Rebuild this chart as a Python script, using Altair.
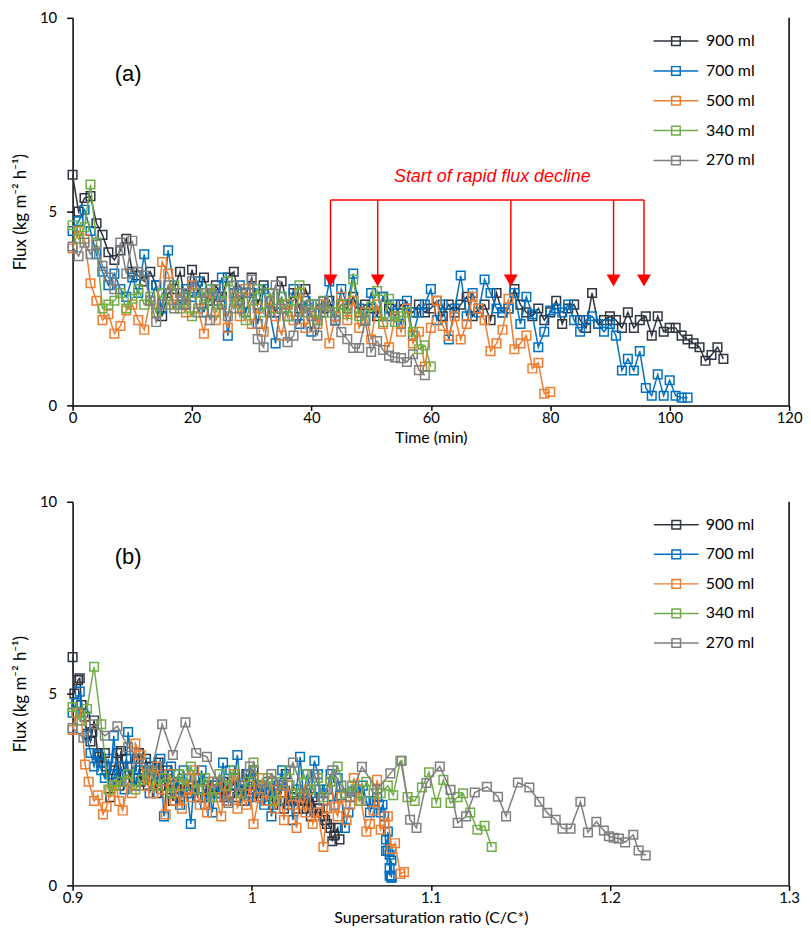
import altair as alt
import pandas as pd

series = ["900 ml", "700 ml", "500 ml", "340 ml", "270 ml"]
colors = ["#2E3440", "#0070C0", "#ED7D31", "#70AD47", "#7F7F7F"]

x_ticks_top = [0, 20, 40, 60, 80, 100, 120]
x_ticks_bottom = [0.9, 1.0, 1.1, 1.2, 1.3]
y_ticks = [0, 5, 10]

# flux (kg m-2 h-1), one reading per minute
flux_900 = [5.95, 5.0, 5.35, 5.4, 4.7, 4.4, 3.95, 3.75, 4.0, 4.3,
            3.45, 3.35, 3.2, 3.45, 3.1, 2.3, 2.9, 3.0, 3.45, 2.6,
            3.5, 2.9, 3.3, 2.7, 3.1, 2.8, 3.3, 3.45, 2.7, 2.9,
            3.3, 2.6, 3.1, 2.9, 2.4, 3.2, 2.6, 2.9, 2.5, 3.0,
            2.6, 2.2, 2.5, 2.7, 2.3, 2.6, 2.5, 2.8, 2.4, 2.6,
            2.5, 2.3, 2.8, 2.5, 2.3, 2.6, 2.5, 2.4, 2.6, 2.4,
            2.5, 2.7, 2.3, 2.6, 2.4, 2.6, 2.8, 2.3, 2.5, 2.6,
            2.2, 2.9, 2.4, 2.5, 3.0, 2.6, 2.4, 2.3, 2.5, 2.2,
            2.4, 2.7, 2.1, 2.5, 2.6, 2.2, 2.0, 2.9, 2.1, 2.2,
            2.3, 2.2, 2.0, 2.4, 2.0, 2.2, 2.3, 1.8, 2.3, 1.9,
            2.0, 2.0, 1.8, 1.7, 1.6, 1.5, 1.15, 1.3, 1.5, 1.2]
flux_700 = [4.5, 4.75, 5.05, 4.5, 3.9, 3.45, 3.1, 3.4, 3.0, 2.8,
            3.3, 2.9, 3.9, 2.7, 3.1, 2.5, 4.0, 3.1, 2.6, 3.0,
            2.8, 3.2, 2.4, 3.0, 2.7, 3.3, 1.8, 2.9, 3.1, 2.4,
            2.9, 2.1, 3.0, 2.4, 1.6, 2.8, 2.3, 3.0, 2.1, 2.7,
            1.9, 2.6, 2.4, 3.2, 2.2, 3.0, 2.6, 3.4, 2.5, 2.2,
            2.9, 2.4, 2.8, 2.3, 2.6, 2.1, 2.7, 1.8, 2.4, 2.6,
            3.0, 2.2, 2.6, 1.7, 2.5, 3.35, 2.3, 2.9, 2.4, 3.25,
            2.9, 2.5, 2.4, 2.5, 2.9, 2.1, 2.8, 2.35, 1.5, 1.9,
            2.45, 2.5, 2.4, 2.6, 2.2, 1.9, 2.2, 2.3, 2.1, 1.9,
            2.1, 1.8, 0.9, 1.2, 0.9, 1.4, 0.45, 0.25, 0.8, 0.25,
            0.65, 0.25, 0.2, 0.2]
flux_500 = [4.05, 4.5, 4.3, 3.15, 2.7, 2.2, 2.35, 1.85, 2.05, 2.45,
            2.6, 2.2, 1.95, 2.7, 2.4, 3.7, 3.4, 2.6, 2.9, 2.4,
            3.1, 2.5, 1.85, 2.9, 2.2, 2.6, 2.0, 2.8, 2.3, 3.0,
            2.1, 2.5, 1.9, 2.7, 2.3, 1.8, 2.6, 2.2, 2.9, 2.0,
            2.4, 2.1, 2.6, 1.6, 2.3, 2.8, 2.2, 2.7, 2.0, 2.4,
            1.7, 2.6, 2.1, 1.5, 2.3, 1.9, 2.5, 1.6, 1.9, 1.0,
            2.0, 2.7, 2.05, 1.8, 2.3, 1.7, 2.1, 2.8, 2.5, 2.2,
            1.4, 1.6, 1.95, 2.75, 1.45, 1.6, 1.8, 0.95, 1.1, 0.3, 0.35]
flux_340 = [4.65, 4.3, 4.6, 5.7, 4.2, 2.5, 2.6, 2.7, 2.9, 2.5,
            2.75, 3.0, 2.6, 2.8, 2.4, 2.9, 2.6, 3.1, 2.5, 2.8,
            2.3, 2.9, 2.6, 3.0, 2.4, 2.7, 3.2, 2.5, 2.8, 2.2,
            2.7, 3.0, 2.4, 2.9, 2.5, 2.8, 2.3, 2.7, 3.1, 2.4,
            2.6, 2.2, 2.7, 2.4, 2.4, 2.6, 2.35, 3.25, 2.3, 2.2,
            2.55, 2.95, 2.15, 2.75, 2.15, 2.3, 2.4, 1.9, 1.45, 1.55, 1.0]
flux_270 = [4.1, 3.85, 4.2, 3.9, 4.15, 3.6, 3.3, 3.0, 4.2, 3.4,
            4.25, 3.45, 3.35, 2.7, 2.15, 2.6, 3.1, 2.5, 2.9, 2.6,
            3.2, 2.4, 2.9, 2.2, 3.0, 2.6, 2.3, 3.09, 2.5, 2.92,
            3.25, 1.71, 1.5, 2.67, 3.1, 2.49, 1.63, 1.8, 2.42, 2.57,
            2.31, 1.8, 2.68, 2.55, 2.18, 1.89, 1.71, 1.48, 1.48, 2.18,
            1.38, 1.66, 1.43, 1.28, 1.24, 1.22, 1.12, 1.32, 0.91, 0.78]

# supersaturation ratio C/C* at each reading
ratio_900 = [0.900, 0.901, 0.903, 0.904, 0.905, 0.907, 0.908, 0.910, 0.911, 0.912,
             0.914, 0.915, 0.916, 0.918, 0.919, 0.921, 0.922, 0.923, 0.925, 0.926,
             0.927, 0.929, 0.930, 0.932, 0.933, 0.934, 0.936, 0.937, 0.938, 0.940,
             0.941, 0.942, 0.944, 0.945, 0.947, 0.948, 0.949, 0.951, 0.952, 0.953,
             0.955, 0.956, 0.958, 0.959, 0.960, 0.962, 0.963, 0.964, 0.966, 0.967,
             0.968, 0.970, 0.971, 0.973, 0.974, 0.975, 0.977, 0.978, 0.979, 0.981,
             0.982, 0.984, 0.985, 0.986, 0.988, 0.989, 0.990, 0.992, 0.993, 0.995,
             0.996, 0.997, 0.999, 1.000, 1.001, 1.003, 1.004, 1.005, 1.007, 1.008,
             1.010, 1.011, 1.012, 1.014, 1.015, 1.016, 1.018, 1.019, 1.021, 1.022,
             1.023, 1.025, 1.026, 1.027, 1.029, 1.030, 1.031, 1.033, 1.034, 1.036,
             1.037, 1.038, 1.040, 1.041, 1.042, 1.044, 1.045, 1.046, 1.048, 1.049]
ratio_700 = [0.900, 0.902, 0.904, 0.906, 0.908, 0.910, 0.912, 0.914, 0.916, 0.918,
             0.920, 0.921, 0.923, 0.925, 0.927, 0.929, 0.931, 0.933, 0.935, 0.937,
             0.939, 0.941, 0.943, 0.945, 0.947, 0.949, 0.951, 0.953, 0.955, 0.957,
             0.959, 0.960, 0.962, 0.964, 0.966, 0.968, 0.970, 0.972, 0.974, 0.976,
             0.978, 0.980, 0.982, 0.984, 0.986, 0.988, 0.990, 0.992, 0.994, 0.996,
             0.998, 0.999, 1.001, 1.003, 1.005, 1.007, 1.009, 1.011, 1.013, 1.015,
             1.017, 1.019, 1.021, 1.023, 1.025, 1.027, 1.029, 1.031, 1.033, 1.035,
             1.037, 1.038, 1.040, 1.042, 1.044, 1.046, 1.048, 1.050, 1.052, 1.054,
             1.056, 1.058, 1.060, 1.062, 1.064, 1.066, 1.068, 1.070, 1.071, 1.072,
             1.073, 1.074, 1.075, 1.075, 1.076, 1.076, 1.077, 1.077, 1.077, 1.078,
             1.078, 1.078, 1.078, 1.078]
ratio_500 = [0.900, 0.902, 0.905, 0.907, 0.909, 0.912, 0.914, 0.917, 0.919, 0.921,
             0.924, 0.926, 0.928, 0.931, 0.933, 0.935, 0.938, 0.940, 0.942, 0.945,
             0.947, 0.950, 0.952, 0.954, 0.957, 0.959, 0.961, 0.964, 0.966, 0.968,
             0.971, 0.973, 0.975, 0.978, 0.980, 0.983, 0.985, 0.987, 0.990, 0.992,
             0.994, 0.997, 0.999, 1.001, 1.004, 1.006, 1.008, 1.011, 1.013, 1.016,
             1.018, 1.020, 1.023, 1.025, 1.027, 1.030, 1.032, 1.034, 1.037, 1.040,
             1.042, 1.044, 1.046, 1.048, 1.050, 1.053, 1.055, 1.057, 1.059, 1.061,
             1.064, 1.066, 1.068, 1.070, 1.072, 1.074, 1.076, 1.078, 1.080, 1.083, 1.085]
ratio_340 = [0.900, 0.904, 0.908, 0.912, 0.916, 0.920, 0.923, 0.927, 0.931, 0.935,
             0.939, 0.943, 0.947, 0.951, 0.955, 0.959, 0.962, 0.966, 0.970, 0.974,
             0.978, 0.982, 0.986, 0.990, 0.994, 0.998, 1.001, 1.005, 1.009, 1.013,
             1.017, 1.021, 1.025, 1.029, 1.033, 1.037, 1.040, 1.044, 1.048, 1.052,
             1.056, 1.060, 1.064, 1.068, 1.072, 1.076, 1.079, 1.083, 1.087, 1.091,
             1.095, 1.099, 1.103, 1.107, 1.111, 1.115, 1.118, 1.122, 1.126, 1.130, 1.134]
ratio_270 = [0.900, 0.906, 0.912, 0.918, 0.925, 0.931, 0.937, 0.944, 0.950, 0.956,
             0.963, 0.969, 0.975, 0.981, 0.987, 0.993, 0.999, 1.005, 1.011, 1.017,
             1.023, 1.029, 1.035, 1.040, 1.045, 1.050, 1.055, 1.0615, 1.070, 1.0774,
             1.0837, 1.0884, 1.092, 1.0975, 1.105, 1.111, 1.115, 1.1197, 1.1245, 1.1313,
             1.1375, 1.142, 1.1486, 1.155, 1.1606, 1.165, 1.1697, 1.1735, 1.178, 1.1835,
             1.1877, 1.1924, 1.1966, 1.1994, 1.2021, 1.205, 1.2085, 1.213, 1.216, 1.220]

flux_all = [flux_900, flux_700, flux_500, flux_340, flux_270]
ratio_all = [ratio_900, ratio_700, ratio_500, ratio_340, ratio_270]

# "Start of rapid flux decline" arrows (time, min)
decline_times = [43.2, 51.1, 73.4, 90.6, 95.7]
bracket_flux = 5.3
shaft_end_flux = 3.3
head_flux = 3.22

# legend rows (flux units) and legend columns (x units) per panel
legend_rows = [9.4, 8.63, 7.86, 7.09, 6.32]
legend_cols_top = [97.3, 104.8, 101.05, 106.1]
legend_cols_bottom = [1.2245, 1.2495, 1.237, 1.2535]

FONT = "Lato"
W = 721
H_TOP = 390
H_BOT = 386
YTITLE = "Flux  (kg m⁻² h⁻¹)"


def make_frame(i):
    f = flux_all[i]
    return pd.DataFrame({
        "time": list(range(len(f))),
        "flux": f,
        "ratio": ratio_all[i],
    })


frames = [make_frame(i) for i in range(5)]

Y_SCALE = alt.Scale(domain=[0, 10], nice=False, zero=True)
Y_AXIS = alt.Axis(values=y_ticks, title=YTITLE, grid=False, tickSize=6, labelPadding=10,
                  titlePadding=10, titleFontSize=17)


def y_enc(field):
    return alt.Y(f"{field}:Q", scale=Y_SCALE, axis=Y_AXIS)


def make_x(dom, ticks, title, fmt):
    sc = alt.Scale(domain=dom, nice=False, zero=False)
    ax = alt.Axis(values=ticks, title=title, grid=False, tickSize=5, labelPadding=0,
                  titlePadding=4, format=fmt, labelFlush=False, titleFontSize=16)

    def x_enc(field):
        return alt.X(f"{field}:Q", scale=sc, axis=ax)
    return x_enc


def legend_layers(x_enc, cols, dom_max):
    ldf = pd.DataFrame({"series": series, "ly": legend_rows,
                        "x0": [cols[0]] * 5, "x1": [cols[1]] * 5,
                        "xm": [cols[2]] * 5, "xt": [cols[3]] * 5})
    lc = alt.Color("series:N", scale=alt.Scale(domain=series, range=colors), legend=None)
    base = alt.Chart(ldf)
    rule = base.mark_rule(strokeWidth=1.5).encode(x=x_enc("x0"), x2="x1:Q", y=y_enc("ly"), color=lc)
    sq = base.mark_point(shape="square", filled=False, size=75, strokeWidth=1.5, opacity=1).encode(
        x=x_enc("xm"), y=y_enc("ly"), color=lc)
    txt = base.mark_text(align="left", baseline="middle", fontSize=16, font=FONT, color="black").encode(
        x=x_enc("xt"), y=y_enc("ly"), text="series:N")
    bdf = pd.DataFrame({"bx": [dom_max], "by0": [0], "by1": [10]})
    border = alt.Chart(bdf).mark_rule(strokeWidth=1.5, color="black").encode(
        x=x_enc("bx"), y=y_enc("by0"), y2="by1:Q")
    return [rule, sq, txt, border]


def panel(field, x_enc, dom_max, h, tag, tag_x, tag_y, extra, cols):
    layers = []
    for i in range(5):
        df = frames[i]
        line = alt.Chart(df).mark_line(strokeWidth=1.5, color=colors[i]).encode(
            x=x_enc(field), y=y_enc("flux"))
        pts = alt.Chart(df).mark_point(shape="square", filled=False, size=75, strokeWidth=1.5,
                                       color=colors[i], opacity=1).encode(
            x=x_enc(field), y=y_enc("flux"))
        layers += [line, pts]
    tdf = pd.DataFrame({"x": [tag_x], "y": [tag_y], "t": [tag]})
    tag_layer = alt.Chart(tdf).mark_text(fontSize=22, font="Liberation Sans", color="black").encode(
        x=x_enc("x"), y=y_enc("y"), text="t:N")
    layers.append(tag_layer)
    layers += extra
    layers += legend_layers(x_enc, cols, dom_max)
    return alt.layer(*layers).properties(width=W, height=h)


x_top = make_x([0, 120], x_ticks_top, "Time (min)", "d")
x_bot = make_x([0.9, 1.3], x_ticks_bottom, "Supersaturation ratio (C/C*)", ".1~f")

ddf = pd.DataFrame({"t": decline_times, "y": [bracket_flux] * len(decline_times),
                    "y2": [shaft_end_flux] * len(decline_times),
                    "yh": [head_flux] * len(decline_times)})
bdf = pd.DataFrame({"t0": [min(decline_times)], "t1": [max(decline_times)], "y": [bracket_flux]})
adf = pd.DataFrame({"t": [70.3], "y": [5.88], "txt": ["Start of rapid flux decline"]})
hline = alt.Chart(bdf).mark_rule(color="#FF0000", strokeWidth=1.5).encode(
    x=x_top("t0"), x2="t1:Q", y=y_enc("y"))
shafts = alt.Chart(ddf).mark_rule(color="#FF0000", strokeWidth=1.5).encode(
    x=x_top("t"), y=y_enc("y"), y2="y2:Q")
heads = alt.Chart(ddf).mark_point(shape="triangle-down", filled=True, size=196,
                                  color="#FF0000", opacity=1).encode(
    x=x_top("t"), y=y_enc("yh"))
atext = alt.Chart(adf).mark_text(color="#FF0000", fontSize=18, fontStyle="italic",
                                 font="Liberation Sans").encode(
    x=x_top("t"), y=y_enc("y"), text="txt:N")

top = panel("time", x_top, 120, H_TOP, "(a)", 9.3, 8.55, [hline, shafts, heads, atext], legend_cols_top)
bottom = panel("ratio", x_bot, 1.3, H_BOT, "(b)", 0.931, 8.55, [], legend_cols_bottom)

chart = alt.vconcat(top, bottom, spacing=50).configure_view(stroke=None).configure_axis(
    labelFont=FONT, titleFont=FONT, labelFontSize=15, titleFontSize=15, labelColor="black",
    titleColor="black", domainColor="black", tickColor="black", domainWidth=1.5, tickWidth=1.5,
    titleFontWeight="normal").properties(padding={"left": 3, "top": 0, "right": 0, "bottom": 0})

chart.save("out.html", embed_options={"renderer": "svg", "actions": False})
